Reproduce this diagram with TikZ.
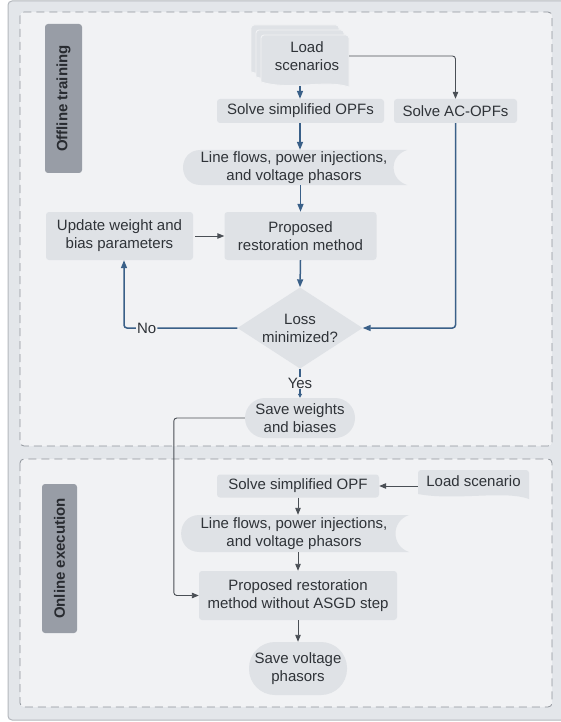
\documentclass[tikz,border=0pt]{standalone}
\usepackage{fontspec}
\setmainfont{Liberation Sans}
\usetikzlibrary{arrows.meta,calc}
\definecolor{outerfill}{HTML}{E3E6EA}
\definecolor{outerdraw}{HTML}{B4B8BD}
\definecolor{panelfill}{HTML}{F1F2F4}
\definecolor{paneldraw}{HTML}{8E939A}
\definecolor{nodefill}{HTML}{DFE2E6}
\definecolor{tagfill}{HTML}{989DA6}
\definecolor{txtc}{HTML}{2F3338}
\definecolor{bluec}{HTML}{3A6088}
\definecolor{grayc}{HTML}{4A4F55}
\begin{document}
\begin{tikzpicture}[x=1pt,y=-1pt,
  every node/.style={font=\fontsize{15}{18}\selectfont, text=txtc, align=center, inner sep=0pt},
  proc/.style={fill=nodefill, rounded corners=3pt},
  tagbox/.style={fill=tagfill, rounded corners=3pt, rotate=90, font=\fontsize{15}{18}\selectfont\bfseries, text=txtc!85!black},
  panel/.style={draw=paneldraw, fill=panelfill, dash pattern=on 8pt off 5pt, rounded corners=4pt, line width=0.8pt},
  shapefill/.style={fill=nodefill},
  sheet/.style={fill=nodefill, draw=panelfill, line width=0.9pt},
  bluearrow/.style={draw=bluec, line width=1.5pt, -{Triangle[length=8pt,width=6pt]}},
  grayarrow/.style={draw=grayc, line width=0.9pt, -{Triangle[length=7pt,width=5.5pt]}},
  lbl/.style={fill=panelfill, inner sep=1pt}
]
\useasboundingbox (0,0) rectangle (561,722);
\fill[white] (0,0) rectangle (561,722);
\draw[draw=outerdraw, fill=outerfill, rounded corners=4pt, line width=1pt] (8,1) rectangle (572,720);
\path[panel] (20,12) rectangle (552,446);
\path[panel] (20,459) rectangle (552,707);

% tags
\node[tagbox, minimum width=149, minimum height=37] (tagoff) at (63.5,98.5) {Offline training};
\node[tagbox, minimum width=149, minimum height=35] (tagon) at (59.5,558.5) {Online execution};

% ---------- offline shapes ----------
% load scenarios stack
\foreach \ox/\oy in {251/25, 256/30, 261/35}{
  \path[sheet] (\ox,\oy+47) [rounded corners=3pt] -- (\ox,\oy) -- (\ox+88,\oy) [sharp corners] -- (\ox+88,\oy+52)
     .. controls (\ox+64,\oy+44) and (\ox+30,\oy+56) .. (\ox,\oy+47) -- cycle;
}
\node[minimum width=84, minimum height=40] (load) at (307,56) {Load\\scenarios};
\coordinate (loadbot) at (300,86);

\node[proc, minimum width=167, minimum height=24] (simp) at (300.5,111) {Solve simplified OPFs};
\node[proc, minimum width=123, minimum height=24] (ac) at (455.5,111) {Solve AC-OPFs};

% stored data shape
\path[shapefill] (200.5,150) -- (407,150) .. controls (389,156) and (389,179) .. (407,185) -- (200.5,185)
   .. controls (177.2,185) and (177.2,150) .. (200.5,150) -- cycle;
\node[minimum width=224, minimum height=35] (lf) at (294,167.5) {Line flows, power injections,\\and voltage phasors};

\node[proc, minimum width=147, minimum height=48] (upd) at (119.5,236) {Update weight and\\bias parameters};
\node[proc, minimum width=152, minimum height=48] (prop) at (300.5,236) {Proposed\\restoration method};

% diamond
\path[shapefill] (237.5,328) -- (300,287.5) -- (362.5,328) -- (300,368.5) -- cycle;
\node[minimum width=125, minimum height=81] (loss) at (300,328) {Loss\\minimized?};

\node[fill=nodefill, rounded corners=20pt, minimum width=110, minimum height=40] (save1) at (300,418) {Save weights\\and biases};

% ---------- online shapes ----------
\node[proc, minimum width=162, minimum height=23] (simpo) at (298,486) {Solve simplified OPF};

\path[shapefill] (418,494) [rounded corners=3pt] -- (418,470) -- (529,470) [sharp corners] -- (529,499)
   .. controls (505,490) and (455,501) .. (418,494) -- cycle;
\node[minimum width=111, minimum height=22] (loado) at (473.5,481) {Load scenario};

\path[shapefill] (199.5,515) -- (409,515) .. controls (391,521) and (391,546) .. (409,552) -- (199.5,552)
   .. controls (175,552) and (175,515) .. (199.5,515) -- cycle;
\node[minimum width=228, minimum height=37] (lfo) at (294,533.5) {Line flows, power injections,\\and voltage phasors};

\node[proc, minimum width=198, minimum height=49] (propo) at (298,595.5) {Proposed restoration\\method without ASGD step};
\node[fill=nodefill, rounded corners=26pt, minimum width=98, minimum height=53] (saveo) at (298,668.5) {Save voltage\\phasors};

% ---------- connectors offline ----------
\draw[bluearrow] (loadbot) -- (loadbot |- simp.north);
\draw[grayarrow, rounded corners=3pt] (load.east) -| (ac.north);
\draw[bluearrow] (simp.south -| loadbot) -- (loadbot |- lf.north);
\draw[bluearrow] (prop.north |- lf.south) -- (prop.north);
\draw[grayarrow, shorten <=2pt] (upd.east) -- (prop.west);
\draw[bluearrow] (prop.south) -- (loss.north);
\draw[bluearrow, rounded corners=3pt] (ac.south) |- (loss.east);
\draw[bluearrow, rounded corners=3pt] (loss.west) -| node[lbl, pos=0.4] {No} ([xshift=4.5pt]upd.south);
\draw[draw=bluec, line width=1.5pt, -{Triangle[length=4pt,width=4pt]}] (loss.south) -- node[lbl] {Yes} (save1.north);
\draw[grayarrow, rounded corners=3pt] (save1.west) -- ++(-71,0) |- (propo.west);

% ---------- connectors online ----------
\draw[grayarrow] (loado.west |- simpo.east) -- (simpo.east);
\draw[grayarrow] (simpo.south) -- (simpo.south |- lfo.north);
\draw[grayarrow] (propo.north |- lfo.south) -- (propo.north);
\draw[grayarrow] (propo.south) -- (saveo.north);
\end{tikzpicture}
\end{document}
